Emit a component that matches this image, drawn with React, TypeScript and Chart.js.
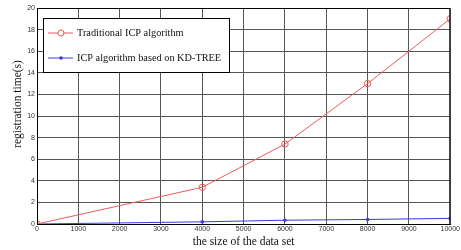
import React, { useEffect, useRef } from "react";
import { Chart, registerables } from "chart.js";

Chart.register(...registerables);

const xValues = [0, 4000, 6000, 8000, 10000];
const traditionalICP = [0, 3.4, 7.4, 13, 19];
const kdTreeICP = [0, 0.2, 0.35, 0.42, 0.52];
const seriesNames = ["Traditional ICP algorithm", "ICP algorithm based on KD-TREE"];
const xTitle = "the size of the data set";
const yTitle = "registration time(s)";

const RED = "#f05a5a";
const BLUE = "#3a3ae8";
const SERIF = "'Liberation Serif', 'Times New Roman', serif";

const framePlugin = {
  id: "frameAndLegend",
  afterDraw(chart: any) {
    const { ctx, chartArea } = chart;
    const { left, right, top, bottom } = chartArea;
    ctx.save();
    ctx.strokeStyle = "#000";
    ctx.lineWidth = 1;
    ctx.strokeRect(left + 0.5, top + 0.5, right - left - 1, bottom - top);
    ctx.fillStyle = "#111";
    ctx.font = `11.5px ${SERIF}`;
    ctx.textAlign = "center";
    ctx.textBaseline = "middle";
    ctx.fillText(xTitle, (left + right) / 2, 242);
    ctx.save();
    ctx.translate(18, (top + bottom) / 2 - 12);
    ctx.rotate(-Math.PI / 2);
    ctx.fillText(yTitle, 0, 0);
    ctx.restore();
    const bx = left + 6, by = top + 10, bw = 186, bh = 54;
    ctx.fillStyle = "#fff";
    ctx.fillRect(bx, by, bw, bh);
    ctx.strokeStyle = "#000";
    ctx.strokeRect(bx + 0.5, by + 0.5, bw, bh);
    const rows = [
      { y: by + 15, color: RED, circle: true, label: seriesNames[0] },
      { y: by + 40, color: BLUE, circle: false, label: seriesNames[1] },
    ];
    rows.forEach((r) => {
      ctx.strokeStyle = r.color;
      ctx.lineWidth = 1;
      ctx.beginPath();
      ctx.moveTo(bx + 5, r.y);
      ctx.lineTo(bx + 30, r.y);
      ctx.stroke();
      ctx.beginPath();
      if (r.circle) {
        ctx.arc(bx + 18, r.y, 3, 0, Math.PI * 2);
        ctx.fillStyle = "#fff";
        ctx.fill();
        ctx.stroke();
      } else {
        ctx.arc(bx + 18, r.y, 1.8, 0, Math.PI * 2);
        ctx.fillStyle = r.color;
        ctx.fill();
      }
      ctx.fillStyle = "#111";
      ctx.font = `10.3px ${SERIF}`;
      ctx.textAlign = "left";
      ctx.textBaseline = "middle";
      ctx.fillText(r.label, bx + 34, r.y);
    });
    ctx.restore();
  },
};

export default function App() {
  const ref = useRef<HTMLCanvasElement>(null);
  useEffect(() => {
    document.body.style.margin = "0";
    const chart = new Chart(ref.current!, {
      type: "line",
      data: {
        datasets: [
          {
            label: seriesNames[0],
            data: xValues.map((x, i) => ({ x, y: traditionalICP[i] })),
            borderColor: RED,
            backgroundColor: "rgba(0,0,0,0)",
            borderWidth: 1,
            pointStyle: "circle",
            pointRadius: 3.2,
            pointBorderColor: RED,
            pointBorderWidth: 1,
            pointBackgroundColor: "rgba(0,0,0,0)",
            tension: 0,
          },
          {
            label: seriesNames[1],
            data: xValues.map((x, i) => ({ x, y: kdTreeICP[i] })),
            borderColor: BLUE,
            backgroundColor: BLUE,
            borderWidth: 1,
            pointRadius: 1.8,
            pointBackgroundColor: BLUE,
            pointBorderWidth: 0,
            tension: 0,
          },
        ],
      },
      options: {
        animation: false,
        responsive: false,
        maintainAspectRatio: false,
        layout: { padding: { top: 8, right: 10, left: 0, bottom: 0 } },
        plugins: { legend: { display: false }, tooltip: { enabled: false } },
        scales: {
          x: {
            type: "linear",
            min: 0,
            max: 10000,
            afterFit: (s: any) => { s.height = 26; },
            ticks: {
              stepSize: 1000,
              color: "#333",
              font: { family: "'Liberation Sans', Arial, sans-serif", size: 7 },
              padding: 1,
              maxRotation: 0,
              autoSkip: false,
              callback: (v: any) => String(v),
            },
            grid: { color: "#555", lineWidth: 1, drawTicks: false },
            border: { color: "#000" },
          },
          y: {
            min: 0,
            max: 20,
            afterFit: (s: any) => { s.width = 37; },
            ticks: {
              stepSize: 2,
              color: "#333",
              font: { family: "'Liberation Sans', Arial, sans-serif", size: 7 },
              padding: 2,
              callback: (v: any) => String(v),
            },
            grid: { color: "#555", lineWidth: 1, drawTicks: false },
            border: { color: "#000" },
          },
        },
      },
      plugins: [framePlugin],
    });
    return () => chart.destroy();
  }, []);
  return (
    <div style={{ width: 461, height: 250, background: "#fff" }}>
      <canvas ref={ref} width={461} height={250} style={{ display: "block" }} />
    </div>
  );
}
